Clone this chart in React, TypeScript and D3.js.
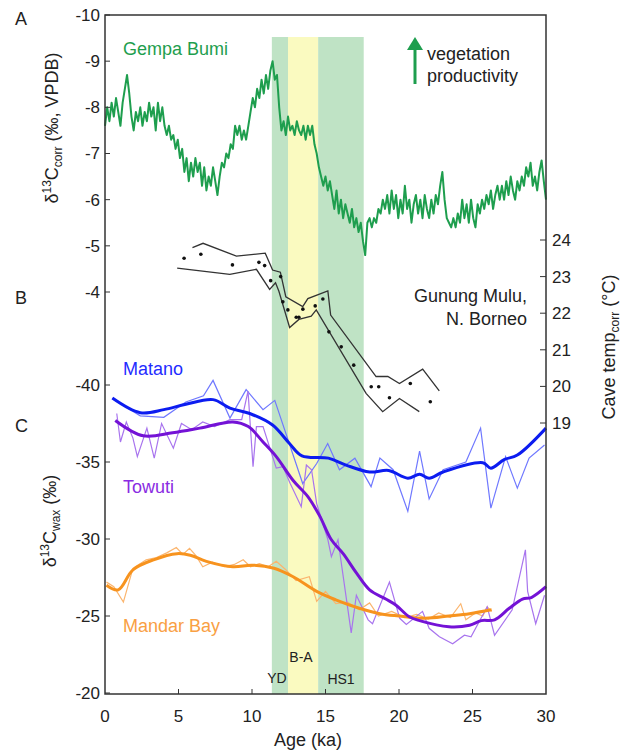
import React from "react";
import * as d3 from "d3";

// ---------- data ----------
const ageTicks = [0, 5, 10, 15, 20, 25, 30];
const aTicks = [-10, -9, -8, -7, -6, -5, -4];
const cTicks = [-40, -35, -30, -25, -20];
const tempTicks = [19, 20, 21, 22, 23, 24];

// climate intervals (ka)
const bands = [
  { name: "YD", start: 11.35, end: 12.45, color: "#bfe3c5" },
  { name: "B-A", start: 12.45, end: 14.5, color: "#fafac0" },
  { name: "HS1", start: 14.5, end: 17.6, color: "#bfe3c5" },
];

// A: Gempa Bumi d13C (evenly spaced, 0 to 30 ka)
const gempaStartKa = 0;
const gempaEndKa = 30;
const gempaValues = [-7.6,-8.0,-7.7,-8.1,-7.8,-8.2,-7.9,-7.6,-8.1,-8.4,-8.7,-8.3,-7.8,-7.5,-7.9,-7.7,-8.0,-7.6,-7.9,-7.7,-8.1,-7.8,-8.0,-7.5,-8.1,-7.7,-8.0,-7.6,-7.4,-7.6,-7.3,-7.4,-7.1,-7.3,-6.9,-7.1,-6.6,-6.9,-6.4,-6.8,-6.5,-6.9,-6.6,-6.8,-6.3,-6.7,-6.2,-6.5,-6.3,-6.7,-6.4,-6.1,-6.5,-6.8,-6.7,-7.0,-6.9,-7.2,-7.1,-7.6,-7.4,-7.6,-7.3,-7.5,-7.3,-7.6,-7.9,-8.2,-8.0,-8.4,-8.2,-8.6,-8.3,-8.7,-8.4,-8.8,-9.0,-8.6,-8.7,-8.0,-7.5,-7.7,-7.4,-7.8,-7.5,-7.6,-7.4,-7.7,-7.5,-7.4,-7.6,-7.3,-7.6,-7.4,-7.6,-7.2,-7.0,-6.7,-6.5,-6.3,-6.5,-6.2,-6.4,-6.1,-5.8,-6.2,-5.7,-6.0,-5.6,-5.9,-5.7,-5.5,-5.8,-5.4,-5.6,-5.3,-5.5,-5.1,-4.8,-5.5,-5.6,-5.4,-5.6,-5.5,-5.8,-5.7,-6.0,-5.8,-6.1,-5.7,-6.2,-5.8,-6.1,-5.6,-6.0,-5.7,-6.3,-5.8,-6.0,-5.5,-5.9,-6.1,-5.7,-6.0,-5.6,-6.1,-5.8,-5.6,-6.0,-5.7,-6.1,-5.9,-6.3,-6.6,-6.0,-5.6,-5.5,-5.4,-5.6,-5.4,-5.7,-5.5,-6.0,-5.6,-5.9,-5.5,-6.0,-5.6,-5.4,-5.9,-5.7,-6.0,-5.8,-6.1,-5.9,-6.2,-5.8,-6.1,-6.3,-6.0,-6.3,-6.0,-6.4,-6.1,-6.5,-6.2,-6.0,-6.4,-6.2,-6.5,-6.3,-6.7,-6.5,-6.8,-6.3,-6.5,-6.2,-6.6,-6.85,-6.4,-6.0];

// B: Gunung Mulu cave temperature [ka, degC]
const muluPoints = [[5.38,23.5],[6.52,23.61],[8.67,23.32],[10.47,23.39],[10.86,23.3],[11.27,22.89],[11.95,23.0],[12.1,22.31],[12.44,22.09],[13.01,21.89],[13.19,21.89],[13.46,22.11],[14.3,22.2],[14.82,22.39],[15.23,21.49],[16.07,21.08],[16.92,20.58],[18.11,19.99],[18.62,19.99],[19.35,19.69],[20.77,20.08],[22.13,19.58]];
const muluUpper = [[5.95,23.79],[6.67,23.91],[8.94,23.56],[10.9,23.64],[11.4,23.18],[11.93,23.12],[12.3,22.45],[13.45,22.18],[13.8,22.4],[15.16,22.61],[15.35,21.95],[18.44,20.27],[19.24,20.27],[20.03,20.08],[21.61,20.47],[22.74,19.88]];
const muluLower = [[4.91,23.23],[8.49,23.06],[10.3,23.2],[11.2,22.65],[11.6,22.83],[11.83,22.6],[12.56,21.61],[13.19,21.83],[14.03,21.92],[14.37,22.09],[17.76,19.81],[18.89,19.31],[20.03,19.67],[21.38,19.31]];

// C: leaf-wax d13C [ka, permil]
const matanoRaw = [[0.5,-39.1],[2.4,-38.0],[4.0,-37.9],[5.5,-38.9],[6.7,-39.3],[7.35,-40.3],[8.5,-37.85],[9.6,-39.7],[10.75,-38.4],[11.55,-39.0],[13.45,-33.6],[14.4,-34.9],[15.15,-36.2],[15.95,-34.5],[17.0,-35.25],[18.1,-33.4],[18.7,-35.25],[19.6,-34.5],[20.6,-31.8],[21.4,-35.7],[22.05,-32.6],[23.0,-34.5],[24.55,-35.0],[25.55,-37.2],[26.25,-32.0],[27.25,-35.35],[28.05,-33.3],[28.85,-35.25],[29.9,-36.1]];
const matanoSmooth = [[0.5,-39.15],[2.4,-38.2],[4.0,-38.4],[5.5,-38.75],[7.35,-39.05],[8.5,-38.5],[9.85,-38.15],[11.4,-37.4],[12.55,-36.2],[13.4,-35.4],[15.2,-35.25],[16.4,-34.8],[18.0,-34.35],[19.3,-34.45],[20.6,-33.95],[21.4,-34.2],[22.05,-33.95],[23.0,-34.35],[25.7,-34.95],[26.25,-34.6],[27.15,-35.15],[28.05,-35.45],[30.0,-37.2]];
const towutiRaw = [[0.8,-38.15],[1.05,-36.3],[1.45,-37.6],[1.9,-36.55],[2.2,-35.35],[2.85,-37.2],[3.35,-35.25],[3.85,-37.5],[4.65,-35.9],[5.2,-37.5],[5.9,-37.1],[6.65,-37.6],[7.45,-37.3],[8.5,-37.75],[9.3,-37.75],[9.73,-39.6],[10.07,-34.7],[10.3,-37.3],[10.75,-37.3],[11.65,-34.6],[12.1,-34.7],[12.6,-33.6],[13.35,-32.1],[13.7,-34.8],[14.05,-34.5],[14.4,-32.3],[15.15,-30.0],[15.4,-28.85],[15.85,-29.95],[16.75,-23.9],[17.1,-26.35],[17.9,-24.75],[18.2,-24.5],[19.35,-27.2],[20.05,-24.85],[20.5,-24.45],[21.6,-25.3],[22.05,-24.2],[22.75,-23.65],[23.65,-23.2],[24.45,-23.75],[24.9,-23.65],[26.0,-25.6],[26.5,-23.75],[27.7,-25.4],[28.6,-29.3],[28.75,-26.6],[29.3,-24.5],[29.9,-26.35]];
const towutiSmooth = [[0.7,-37.7],[2.6,-36.7],[4.6,-36.9],[6.45,-37.2],[8.7,-37.6],[9.75,-37.3],[10.75,-36.3],[11.65,-35.35],[12.8,-33.8],[13.8,-32.75],[14.6,-31.5],[15.4,-29.95],[16.2,-29.05],[17.1,-27.8],[18.0,-26.7],[19.1,-26.1],[19.8,-25.7],[20.7,-24.95],[21.4,-24.7],[23.4,-24.3],[24.8,-24.4],[25.6,-24.7],[26.5,-24.75],[27.5,-25.5],[28.4,-26.1],[29.0,-26.2],[30.0,-26.9]];
const mandarRaw = [[0.1,-27.2],[0.6,-26.9],[1.25,-25.9],[1.9,-28.1],[2.8,-28.65],[3.5,-28.8],[4.2,-29.1],[4.85,-29.45],[5.3,-29.0],[5.75,-29.4],[6.2,-28.9],[6.65,-28.2],[7.3,-28.5],[8.1,-28.2],[8.8,-28.35],[9.4,-28.65],[9.9,-28.2],[10.5,-28.4],[11.1,-28.2],[11.65,-28.55],[12.3,-28.0],[13.0,-27.3],[13.9,-27.55],[14.4,-25.95],[15.0,-26.6],[15.7,-25.8],[16.5,-25.9],[17.3,-25.4],[18.0,-25.85],[18.6,-25.0],[19.5,-25.3],[20.4,-24.9],[21.2,-25.1],[22.0,-24.8],[22.7,-25.2],[23.5,-24.9],[24.2,-25.8],[24.55,-24.75],[25.2,-25.2],[25.7,-25.0],[26.0,-25.6],[26.3,-25.3]];
const mandarSmooth = [[0.1,-27.0],[0.9,-26.7],[1.9,-28.0],[3.3,-28.65],[4.9,-29.05],[5.8,-28.95],[6.9,-28.55],[8.7,-28.2],[10.0,-28.3],[11.5,-28.1],[12.8,-27.55],[14.4,-26.6],[15.7,-26.05],[17.3,-25.5],[18.7,-25.15],[20.0,-25.0],[21.8,-24.85],[23.4,-25.0],[24.8,-25.15],[26.3,-25.4]];

// ---------- layout ----------
const W = 628, H = 753;
const L = 105, R = 546, T = 15, B = 694;
const FONT = "Liberation Sans, Arial, Helvetica, sans-serif";
const TXT = "#222";

export default function App() {
  const x = d3.scaleLinear().domain([0, 30]).range([L, R]);
  const yA = d3.scaleLinear().domain([-10, -4]).range([T, 292]);
  const yB = d3.scaleLinear().domain([19, 24]).range([423, 240]);
  const yC = d3.scaleLinear().domain([-40, -20]).range([385, 693]);

  const gStep = (gempaEndKa - gempaStartKa) / (gempaValues.length - 1);
  const gempa = gempaValues.map((v, i) => [gempaStartKa + i * gStep, v]);

  const lineA = d3.line<number[]>().x(d => x(d[0])).y(d => yA(d[1]));
  const lineB = d3.line<number[]>().x(d => x(d[0])).y(d => yB(d[1]));
  const lineC = d3.line<number[]>().x(d => x(d[0])).y(d => yC(d[1]));
  const smoothC = d3.line<number[]>().x(d => x(d[0])).y(d => yC(d[1])).curve(d3.curveCatmullRom.alpha(0.5));

  const bandTop = 37;

  return (
    <svg width={W} height={H} style={{ position: "absolute", left: 0, top: 0, background: "#fff" }} fontFamily={FONT}>
      {/* bands */}
      {bands.map(b => (
        <rect key={b.name} x={x(b.start)} y={bandTop} width={x(b.end) - x(b.start)} height={B - bandTop} fill={b.color} />
      ))}

      {/* A: Gempa Bumi */}
      <path d={lineA(gempa) || ""} fill="none" stroke="#1e9e4e" strokeWidth={2} strokeLinejoin="round" />

      {/* B: Gunung Mulu */}
      <path d={lineB(muluUpper) || ""} fill="none" stroke="#333" strokeWidth={1.3} />
      <path d={lineB(muluLower) || ""} fill="none" stroke="#333" strokeWidth={1.3} />
      {muluPoints.map((p, i) => (
        <circle key={i} cx={x(p[0])} cy={yB(p[1])} r={1.8} fill="#111" />
      ))}

      {/* C: raw thin lines */}
      <path d={lineC(mandarRaw) || ""} fill="none" stroke="#fbb56e" strokeWidth={1.2} />
      <path d={lineC(matanoRaw) || ""} fill="none" stroke="#6f78ff" strokeWidth={1.2} />
      <path d={lineC(towutiRaw) || ""} fill="none" stroke="#a874ee" strokeWidth={1.2} />
      {/* C: smoothed thick lines */}
      <path d={smoothC(mandarSmooth) || ""} fill="none" stroke="#f7931e" strokeWidth={3} />
      <path d={smoothC(matanoSmooth) || ""} fill="none" stroke="#0c1cf0" strokeWidth={3} />
      <path d={smoothC(towutiSmooth) || ""} fill="none" stroke="#7412d6" strokeWidth={3} />

      {/* frame */}
      <rect x={L} y={T} width={R - L} height={B - T} fill="none" stroke="#333" strokeWidth={1.5} />

      {/* bottom axis */}
      {ageTicks.map(t => (
        <g key={t}>
          {t > 0 && t < 30 && <line x1={x(t)} x2={x(t)} y1={B} y2={B - 5} stroke="#333" strokeWidth={1} />}
          <text x={x(t)} y={722} fontSize={17} fill={TXT} textAnchor="middle">{t}</text>
        </g>
      ))}
      <text x={308} y={746} fontSize={18} fill={TXT} textAnchor="middle">Age (ka)</text>

      {/* left axis A */}
      {aTicks.map(t => (
        <g key={t}>
          <line x1={L} x2={L + 5} y1={yA(t)} y2={yA(t)} stroke="#333" />
          <text x={100} y={yA(t)} dy="0.35em" fontSize={17} fill={TXT} textAnchor="end">{t}</text>
        </g>
      ))}
      {/* left axis C */}
      {cTicks.map(t => (
        <g key={t}>
          <line x1={L} x2={L + 5} y1={yC(t)} y2={yC(t)} stroke="#333" />
          <text x={100} y={yC(t)} dy="0.35em" fontSize={17} fill={TXT} textAnchor="end">{t}</text>
        </g>
      ))}
      {/* right axis temp */}
      {tempTicks.map(t => (
        <g key={t}>
          <line x1={R - 6} x2={R} y1={yB(t)} y2={yB(t)} stroke="#333" />
          <text x={552} y={yB(t)} dy="0.35em" fontSize={17} fill={TXT}>{t}</text>
        </g>
      ))}

      {/* axis titles */}
      <text transform="translate(58,128) rotate(-90)" fontSize={18} fill={TXT} textAnchor="middle">
        δ<tspan fontSize={12} dy={-7}>13</tspan><tspan dy={7}>C</tspan><tspan fontSize={12} dy={4}>corr</tspan><tspan dy={-4}> (‰, VPDB)</tspan>
      </text>
      <text transform="translate(56,521) rotate(-90)" fontSize={18} fill={TXT} textAnchor="middle">
        δ<tspan fontSize={12} dy={-7}>13</tspan><tspan dy={7}>C</tspan><tspan fontSize={12} dy={4}>wax</tspan><tspan dy={-4}> (‰)</tspan>
      </text>
      <text transform="translate(615,347) rotate(-90)" fontSize={18} fill={TXT} textAnchor="middle">
        Cave temp<tspan fontSize={12} dy={4}>corr</tspan><tspan dy={-4}> (°C)</tspan>
      </text>

      {/* panel letters */}
      <text x={15} y={25} fontSize={18} fill={TXT}>A</text>
      <text x={15} y={304} fontSize={18} fill={TXT}>B</text>
      <text x={15} y={432} fontSize={18} fill={TXT}>C</text>

      {/* series labels */}
      <text x={123} y={55} fontSize={18} fill="#1e9e4e">Gempa Bumi</text>
      <text x={527} y={302} fontSize={18} fill={TXT} textAnchor="end">Gunung Mulu,</text>
      <text x={527} y={325} fontSize={18} fill={TXT} textAnchor="end">N. Borneo</text>
      <text x={123} y={375} fontSize={18} fill="#1f2cff">Matano</text>
      <text x={123} y={493} fontSize={18} fill="#8a2be2">Towuti</text>
      <text x={123} y={632} fontSize={18} fill="#f9a043">Mandar Bay</text>

      {/* vegetation productivity arrow */}
      <line x1={415} x2={415} y1={84} y2={46} stroke="#1e9e4e" strokeWidth={3} />
      <path d="M407,50 L415,37 L423,50 Z" fill="#1e9e4e" />
      <text x={427} y={60} fontSize={18} fill={TXT}>vegetation</text>
      <text x={427} y={82} fontSize={18} fill={TXT}>productivity</text>

      {/* band labels */}
      <text x={277} y={683} fontSize={14} fill={TXT} textAnchor="middle">YD</text>
      <text x={301} y={662} fontSize={14} fill={TXT} textAnchor="middle">B-A</text>
      <text x={341} y={684} fontSize={14} fill={TXT} textAnchor="middle">HS1</text>
    </svg>
  );
}
